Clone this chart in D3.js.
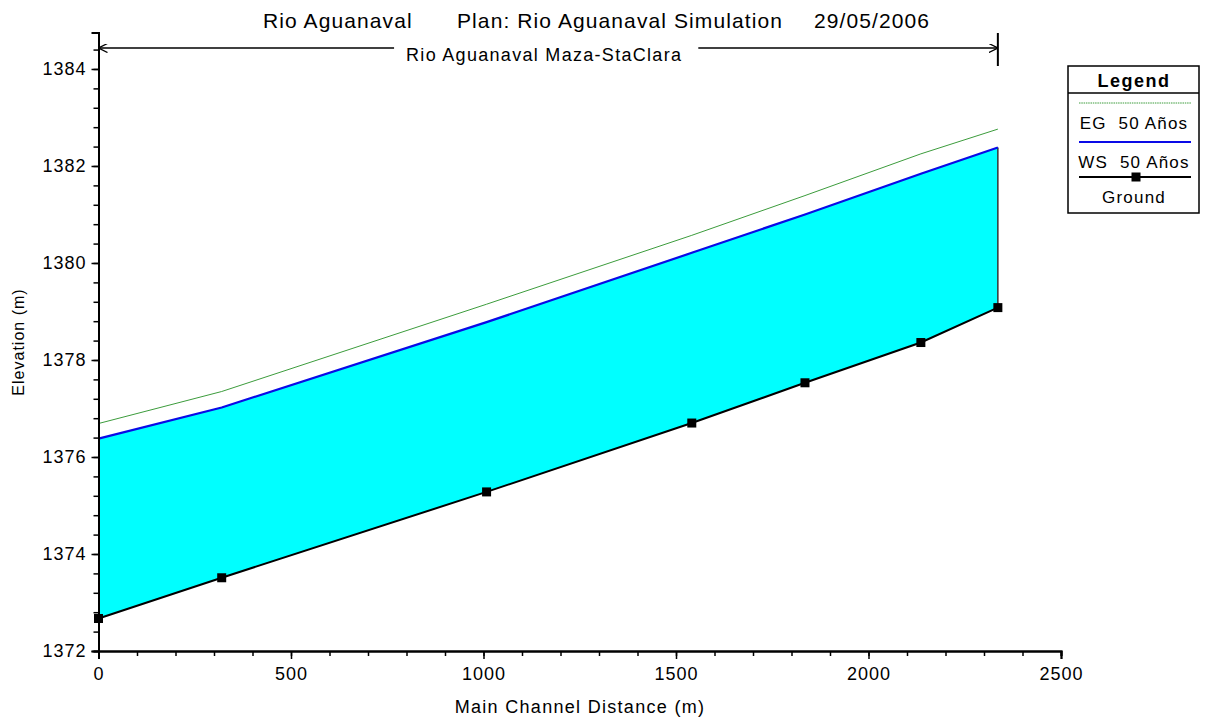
<!DOCTYPE html>
<html>
<head>
<meta charset="utf-8">
<script src="https://cdn.jsdelivr.net/npm/d3@7"></script>
<style>
  body { margin: 0; background: #fff; }
  svg { display: block; font-family: "Liberation Sans", Arial, sans-serif; }
</style>
</head>
<body>
<div class="container"></div>
<script>
// river stations (m) and profile elevations (m)
const stations = [0, 320, 1008, 1541, 1835, 2136, 2336]
const ground = [1372.67, 1373.51, 1375.28, 1376.70, 1377.53, 1378.36, 1379.08]
const wsElev = [1376.38, 1377.02, 1378.78, 1380.21, 1381.00, 1381.84, 1382.38]
const egElev = [1376.69, 1377.35, 1379.15, 1380.57, 1381.39, 1382.25, 1382.76]

const xTicks = [0, 500, 1000, 1500, 2000, 2500]
const yTicks = [1372, 1374, 1376, 1378, 1380, 1382, 1384]
const legendLabels = ["EG  50 Años", "WS  50 Años", "Ground"]
const reachName = "Rio Aguanaval Maza-StaClara"

const w = 1205
const h = 721

const xScale = d3.scaleLinear()
.domain([0, 2500])
.range([98.5, 1061])

const yScale = d3.scaleLinear()
.domain([1372, 1384.75])
.range([651, 32.6])

const svg = d3.select(".container")
.append("svg")
.attr("width", w)
.attr("height", h)

// water between ground and water surface
const area = stations.map((s, i) => [s, ground[i], wsElev[i]])
svg.append("path")
.datum(area)
.attr("d", d3.area()
  .x(d => xScale(d[0]))
  .y0(d => yScale(d[1]))
  .y1(d => yScale(d[2])))
.attr("fill", "#00ffff")

const last = stations.length - 1
svg.append("line")
.attr("x1", xScale(stations[last])).attr("x2", xScale(stations[last]))
.attr("y1", yScale(wsElev[last])).attr("y2", yScale(ground[last]))
.attr("stroke", "#333").attr("stroke-width", 1.5)

const line = d3.line()
.x(d => xScale(d[0]))
.y(d => yScale(d[1]))

svg.append("path")
.datum(stations.map((s, i) => [s, egElev[i]]))
.attr("d", line)
.attr("fill", "none")
.attr("stroke", "#3c9c3c")
.attr("stroke-width", 1)

svg.append("path")
.datum(stations.map((s, i) => [s, wsElev[i]]))
.attr("d", line)
.attr("fill", "none")
.attr("stroke", "#0a0ae6")
.attr("stroke-width", 2.2)

svg.append("path")
.datum(stations.map((s, i) => [s, ground[i]]))
.attr("d", line)
.attr("fill", "none")
.attr("stroke", "#000")
.attr("stroke-width", 2)

svg.selectAll("rect.pt")
.data(stations.map((s, i) => [s, ground[i]]))
.enter()
.append("rect")
.attr("class", "pt")
.attr("x", d => xScale(d[0]) - 4.5)
.attr("y", d => yScale(d[1]) - 4.5)
.attr("width", 9)
.attr("height", 9)
.attr("fill", "#000")

// axes with minor ticks
const xMinor = d3.axisBottom(xScale).tickValues(d3.range(0, 2501, 100)).tickSize(5).tickFormat("")
const xAxis = d3.axisBottom(xScale).tickValues(xTicks).tickSize(8).tickPadding(6).tickFormat(d3.format("d"))
const yMinor = d3.axisLeft(yScale).tickValues(d3.range(1372, 1384.7, 0.4)).tickSize(5).tickFormat("")
const yAxis = d3.axisLeft(yScale).tickValues(yTicks).tickSize(7).tickPadding(5).tickFormat(d3.format("d"))

svg.append("g").attr("transform", "translate(0," + yScale(1372) + ")").call(xMinor)
svg.append("g").attr("transform", "translate(0," + yScale(1372) + ")").attr("id", "x-axis").call(xAxis)
svg.append("g").attr("transform", "translate(" + xScale(0) + ",0)").call(yMinor)
svg.append("g").attr("transform", "translate(" + xScale(0) + ",0)").attr("id", "y-axis").call(yAxis)

svg.selectAll(".domain").attr("stroke", "#000").attr("stroke-width", 2)
svg.selectAll(".tick line").attr("stroke", "#000").attr("stroke-width", 1.5)
svg.selectAll(".tick text")
.style("font-size", "18px")
.style("letter-spacing", "1px")
.attr("fill", "#000")
svg.selectAll("#x-axis .tick text").attr("dy", "0.85em")

// title
const titleParts = [[263, "Rio Aguanaval"], [457, "Plan: Rio Aguanaval Simulation"], [814, "29/05/2006"]]
svg.selectAll("text.title")
.data(titleParts)
.enter()
.append("text")
.attr("class", "title")
.attr("x", d => d[0]).attr("y", 28)
.style("font-size", "21px")
.style("letter-spacing", "1.1px")
.text(d => d[1])

// reach extent marker
const reachY = 48
const rx0 = xScale(0)
const rx1 = xScale(stations[last])
svg.append("defs").selectAll("marker")
.data(["arrL", "arrR"])
.enter()
.append("marker")
.attr("id", d => d)
.attr("viewBox", "0 0 10 10")
.attr("refX", 10).attr("refY", 5)
.attr("markerWidth", 9).attr("markerHeight", 9)
.attr("markerUnits", "userSpaceOnUse")
.attr("orient", "auto")
.append("path")
.attr("d", "M0,0 L10,5 L0,10")
.attr("fill", "none")
.attr("stroke", "#000")
.attr("stroke-width", 1.5)

const reachLabel = svg.append("text")
.attr("x", (rx0 + rx1) / 2 - 4).attr("y", 61)
.attr("text-anchor", "middle")
.style("font-size", "18px")
.style("letter-spacing", "1.3px")
.text(reachName)
const lw = reachLabel.node().getComputedTextLength()
svg.append("line")
.attr("x1", (rx0 + rx1) / 2 - lw / 2 - 16).attr("x2", rx0)
.attr("y1", reachY).attr("y2", reachY)
.attr("stroke", "#000").attr("stroke-width", 1.5)
.attr("marker-end", "url(#arrL)")
svg.append("line")
.attr("x1", (rx0 + rx1) / 2 + lw / 2 + 12).attr("x2", rx1)
.attr("y1", reachY).attr("y2", reachY)
.attr("stroke", "#000").attr("stroke-width", 1.5)
.attr("marker-end", "url(#arrR)")
svg.append("line")
.attr("x1", rx1).attr("x2", rx1)
.attr("y1", 33).attr("y2", 66)
.attr("stroke", "#000").attr("stroke-width", 2)

// axis titles
svg.append("text")
.attr("x", 580).attr("y", 713)
.attr("text-anchor", "middle")
.style("font-size", "18px")
.style("letter-spacing", "1.3px")
.text("Main Channel Distance (m)")
svg.append("text")
.attr("transform", "rotate(-90)")
.attr("x", -342).attr("y", 24)
.attr("text-anchor", "middle")
.style("font-size", "16px")
.style("letter-spacing", "1px")
.text("Elevation (m)")

// legend
const lg = svg.append("g")
lg.append("rect")
.attr("x", 1068).attr("y", 66).attr("width", 131).attr("height", 147)
.attr("fill", "#fff").attr("stroke", "#000").attr("stroke-width", 1.5)
lg.append("line")
.attr("x1", 1068).attr("x2", 1199).attr("y1", 93).attr("y2", 93)
.attr("stroke", "#000").attr("stroke-width", 1.5)
lg.append("text")
.attr("x", 1134).attr("y", 87)
.attr("text-anchor", "middle")
.style("font-size", "18px").style("font-weight", "bold")
.style("letter-spacing", "1.5px")
.text("Legend")

const legStroke = ["#3c9c3c", "#0a0ae6", "#000"]
const legWidth = [1, 2, 2]
const legRows = [103, 142, 177]
legendLabels.forEach((t, i) => {
  lg.append("line")
  .attr("x1", 1079).attr("x2", 1191)
  .attr("y1", legRows[i]).attr("y2", legRows[i])
  .attr("stroke", legStroke[i]).attr("stroke-width", legWidth[i])
  .attr("stroke-dasharray", i === 0 ? "1.5,0.8" : null)
  lg.append("text")
  .attr("x", 1134).attr("y", legRows[i] + 26)
  .attr("text-anchor", "middle")
  .style("font-size", "17px")
  .style("letter-spacing", "1.2px")
  .style("white-space", "pre")
  .text(t)
})
lg.append("rect")
.attr("x", 1131.5).attr("y", 172.5).attr("width", 9).attr("height", 9)
.attr("fill", "#000")
</script>
</body>
</html>
